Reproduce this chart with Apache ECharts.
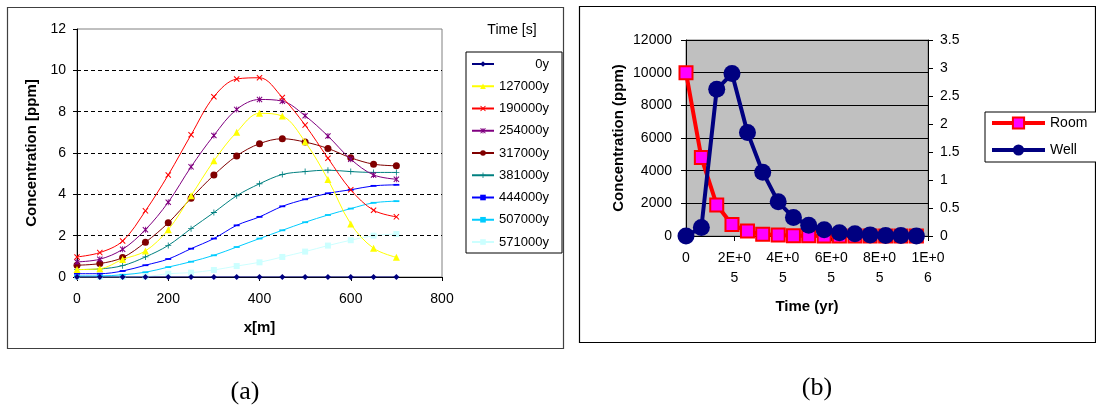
<!DOCTYPE html>
<html>
<head>
<meta charset="utf-8">
<script src="https://cdn.jsdelivr.net/npm/echarts@6/dist/echarts.min.js"></script>
<style>html,body{margin:0;padding:0;background:#fff;}#c{width:1096px;height:410px;}</style>
</head>
<body>
<div id="c"></div>
<script>
// ---------- Data: panel (a) ----------
const distances = [0,50,100,150,200,250,300,350,400,450,500,550,600,650,700];
const seriesNamesA = ['0y','127000y','190000y','254000y','317000y','381000y','444000y','507000y','571000y'];
const c0y      = [0,0,0,0,0,0,0,0,0,0,0,0,0,0,0];
const c127000y = [0.36,0.40,0.85,1.26,2.29,3.93,5.62,7.01,7.92,7.79,6.54,4.72,2.57,1.39,0.95];
const c190000y = [0.97,1.18,1.74,3.20,4.94,6.88,8.72,9.58,9.64,8.69,7.35,5.75,4.22,3.23,2.91];
const c254000y = [0.73,0.86,1.34,2.29,3.62,5.33,6.85,8.11,8.59,8.51,7.80,6.82,5.70,4.94,4.73];
const c317000y = [0.57,0.65,0.94,1.68,2.62,3.81,4.93,5.86,6.45,6.69,6.53,6.22,5.77,5.46,5.38];
const c381000y = [0.36,0.39,0.55,0.97,1.53,2.34,3.12,3.93,4.51,4.96,5.10,5.17,5.10,5.06,5.06];
const c444000y = [0.16,0.16,0.29,0.57,0.87,1.37,1.86,2.50,2.91,3.42,3.76,4.05,4.22,4.41,4.46];
const c507000y = [0.05,0.05,0.11,0.23,0.48,0.74,1.05,1.45,1.86,2.26,2.65,3.00,3.31,3.59,3.67];
const c571000y = [0.00,0.00,0.00,0.02,0.16,0.21,0.34,0.53,0.71,0.97,1.23,1.52,1.78,2.00,2.08];
const gridValuesA = [2,4,6,8,10];

// ---------- Data: panel (b) ----------
const timesYr = [0,63500,127000,190000,254000,317000,381000,444000,507000,571000,634000,698000,761000,825000,888000,952000];
const roomPpm = [10000,4800,1900,700,300,100,60,20,10,5,0,0,0,0,0,0];
const wellPpm = [0,0.15,2.62,2.90,1.85,1.14,0.61,0.33,0.19,0.11,0.06,0.04,0.02,0.01,0.01,0.00];

const FONT = '"Liberation Sans", Arial, sans-serif';
const pairs = (xs, ys) => xs.map((x, i) => [x, ys[i]]);

const X_PATH = 'path://M0,1.2L1.2,0L5,3.8L8.8,0L10,1.2L6.2,5L10,8.8L8.8,10L5,6.2L1.2,10L0,8.8L3.8,5Z';
const STAR_PATH = 'path://M0,1.2L1.2,0L5,3.8L8.8,0L10,1.2L6.2,5L10,8.8L8.8,10L5,6.2L1.2,10L0,8.8L3.8,5Z M4.3,0L5.7,0L5.7,10L4.3,10Z';
const PLUS_PATH = 'path://M4.3,0L5.7,0L5.7,4.3L10,4.3L10,5.7L5.7,5.7L5.7,10L4.3,10L4.3,5.7L0,5.7L0,4.3L4.3,4.3Z';
const DASH_PATH = 'path://M0,0L10,0L10,3L0,3Z';

const styleA = [
  {color:'#000080', symbol:'diamond', size:6},
  {color:'#FFFF00', symbol:'triangle', size:7},
  {color:'#FF0000', symbol:X_PATH, size:6},
  {color:'#800080', symbol:STAR_PATH, size:6},
  {color:'#800000', symbol:'circle', size:7},
  {color:'#008080', symbol:PLUS_PATH, size:6},
  {color:'#0000FF', symbol:DASH_PATH, size:6},
  {color:'#00CCFF', symbol:DASH_PATH, size:6},
  {color:'#CCFFFF', symbol:'rect', size:6}
];
const valuesA = [c0y,c127000y,c190000y,c254000y,c317000y,c381000y,c444000y,c507000y,c571000y];

const seriesA = seriesNamesA.map((name, i) => ({
  name: name,
  type: 'line',
  xAxisIndex: 0, yAxisIndex: 0,
  smooth: i === 0 ? false : 0.35,
  data: pairs(distances, valuesA[i]),
  symbol: styleA[i].symbol,
  symbolSize: styleA[i].size,
  symbolKeepAspect: true,
  showAllSymbol: true,
  lineStyle: {color: styleA[i].color, width: 1},
  itemStyle: {color: styleA[i].color},
  emphasis: {disabled: true},
  animation: false,
  z: 3 + (8 - i)
}));

// dashed horizontal grid lines for panel (a)
seriesA.push({
  name: '_grid', type: 'line', xAxisIndex: 0, yAxisIndex: 0, data: [],
  silent: true, animation: false,
  markLine: {
    silent: true, symbol: 'none', label: {show: false},
    lineStyle: {color: '#000', width: 1, type: [4, 3]},
    data: gridValuesA.map(v => ({yAxis: v}))
  },
  z: 1
});

const seriesB = [
  {
    name: 'Room', type: 'line', xAxisIndex: 1, yAxisIndex: 1,
    data: pairs(timesYr, roomPpm),
    symbol: 'rect', symbolSize: 13,
    lineStyle: {color: '#FF0000', width: 4},
    itemStyle: {color: '#FF00FF', borderColor: '#FF0000', borderWidth: 2},
    emphasis: {disabled: true}, animation: false, z: 3
  },
  {
    name: 'Well', type: 'line', xAxisIndex: 1, yAxisIndex: 2,
    data: pairs(timesYr, wellPpm),
    symbol: 'circle', symbolSize: 17,
    lineStyle: {color: '#000080', width: 4},
    itemStyle: {color: '#000080'},
    emphasis: {disabled: true}, animation: false, z: 4
  }
];

function sciLabel(v) {
  if (v === 0) return '0';
  const e = Math.floor(Math.log10(v) + 1e-9);
  const m = Math.round(v / Math.pow(10, e));
  const s = m + 'E+' + (e < 10 ? '0' + e : '' + e);
  return s.slice(0, 4) + '\n' + s.slice(4);
}

const chart = echarts.init(document.getElementById('c'), null, {renderer: 'canvas'});
chart.setOption({
  backgroundColor: '#fff',
  textStyle: {fontFamily: FONT},
  grid: [
    {left: 77, top: 29, width: 365, height: 248, show: true, borderColor: '#808080', borderWidth: 1, backgroundColor: '#fff', containLabel: false},
    {left: 686, top: 40, width: 242, height: 196, show: true, borderColor: '#808080', borderWidth: 1, backgroundColor: '#C0C0C0', containLabel: false}
  ],
  xAxis: [
    {
      gridIndex: 0, type: 'value', min: 0, max: 800, interval: 200,
      axisLine: {show: true, onZero: false, lineStyle: {color: '#000', width: 1}},
      axisTick: {show: true, inside: false, length: 4, lineStyle: {color: '#000'}},
      axisLabel: {color: '#000', fontSize: 14, fontFamily: FONT, margin: 15},
      splitLine: {show: false},
      name: 'x[m]', nameLocation: 'middle', nameGap: 43,
      nameTextStyle: {color: '#000', fontSize: 15, fontWeight: 'bold', fontFamily: FONT}
    },
    {
      gridIndex: 1, type: 'value', min: 0, max: 1000000, interval: 200000,
      axisLine: {show: true, onZero: false, lineStyle: {color: '#000', width: 1}},
      axisTick: {show: true, inside: false, length: 5, lineStyle: {color: '#000'}},
      axisLabel: {color: '#000', fontSize: 14, fontFamily: FONT, margin: 12, lineHeight: 20, formatter: sciLabel, showMaxLabel: true, hideOverlap: false},
      splitLine: {show: false},
      name: 'Time (yr)', nameLocation: 'middle', nameGap: 63,
      nameTextStyle: {color: '#000', fontSize: 15, fontWeight: 'bold', fontFamily: FONT}
    }
  ],
  yAxis: [
    {
      gridIndex: 0, type: 'value', min: 0, max: 12, interval: 2,
      axisLine: {show: true, lineStyle: {color: '#000', width: 1}},
      axisTick: {show: true, inside: false, length: 4, lineStyle: {color: '#000'}},
      axisLabel: {color: '#000', fontSize: 14, fontFamily: FONT, margin: 11},
      splitLine: {show: false},
      name: 'Concentration [ppm]', nameLocation: 'middle', nameGap: 38,
      nameTextStyle: {color: '#000', fontSize: 15, fontWeight: 'bold', fontFamily: FONT}
    },
    {
      gridIndex: 1, type: 'value', min: 0, max: 12000, interval: 2000, position: 'left',
      axisLine: {show: true, lineStyle: {color: '#000', width: 1}},
      axisTick: {show: true, inside: false, length: 5, lineStyle: {color: '#000'}},
      axisLabel: {color: '#000', fontSize: 14, fontFamily: FONT, margin: 14, formatter: v => String(v)},
      splitLine: {show: true, lineStyle: {color: '#000', width: 1, type: 'solid'}},
      name: 'Concentration (ppm)', nameLocation: 'middle', nameGap: 60,
      nameTextStyle: {color: '#000', fontSize: 15, fontWeight: 'bold', fontFamily: FONT}
    },
    {
      gridIndex: 1, type: 'value', min: 0, max: 3.5, interval: 0.5, position: 'right',
      axisLine: {show: true, lineStyle: {color: '#000', width: 1}},
      axisTick: {show: true, inside: false, length: 5, lineStyle: {color: '#000'}},
      axisLabel: {color: '#000', fontSize: 14, fontFamily: FONT, margin: 12},
      splitLine: {show: false}
    }
  ],
  legend: [
    {
      data: seriesNamesA, orient: 'vertical', left: 466, top: 52,
      itemWidth: 22, itemHeight: 7, itemGap: 9.25,
      padding: [5.5, 13, 4.5, 5],
      borderColor: '#000', borderWidth: 1, backgroundColor: '#fff',
      selectedMode: false,
      formatter: n => '{r|' + n + '}',
      textStyle: {color: '#000', fontFamily: FONT, fontSize: 13,
        rich: {r: {width: 50, align: 'right', fontSize: 13, fontFamily: FONT, color: '#000'}}}
    },
    {
      data: ['Room', 'Well'], orient: 'vertical', left: 985, top: 112,
      itemWidth: 53, itemHeight: 14, itemGap: 13,
      padding: [4, 12, 5, 5],
      borderColor: '#000', borderWidth: 1, backgroundColor: '#fff',
      selectedMode: false,
      lineStyle: {width: 4},
      textStyle: {color: '#000', fontFamily: FONT, fontSize: 14}
    }
  ],
  graphic: [
    {type: 'rect', shape: {x: 7.5, y: 7.5, width: 556, height: 341}, style: {fill: 'none', stroke: '#404040', lineWidth: 1.2}, silent: true, z: -10},
    {type: 'rect', shape: {x: 579.5, y: 6.5, width: 516, height: 336}, style: {fill: 'none', stroke: '#000', lineWidth: 1.2}, silent: true, z: -10},
    {type: 'text', style: {text: 'Time [s]', x: 512, y: 30, fill: '#000', font: '14px "Liberation Sans", Arial, sans-serif', textAlign: 'center', textVerticalAlign: 'middle'}, silent: true},
    {type: 'text', style: {text: '(a)', x: 245, y: 392, fill: '#000', font: '26px "Liberation Serif", "Times New Roman", serif', textAlign: 'center', textVerticalAlign: 'middle'}, silent: true},
    {type: 'text', style: {text: '(b)', x: 817, y: 388, fill: '#000', font: '26px "Liberation Serif", "Times New Roman", serif', textAlign: 'center', textVerticalAlign: 'middle'}, silent: true}
  ],
  series: seriesA.concat(seriesB)
});
</script>
</body>
</html>
